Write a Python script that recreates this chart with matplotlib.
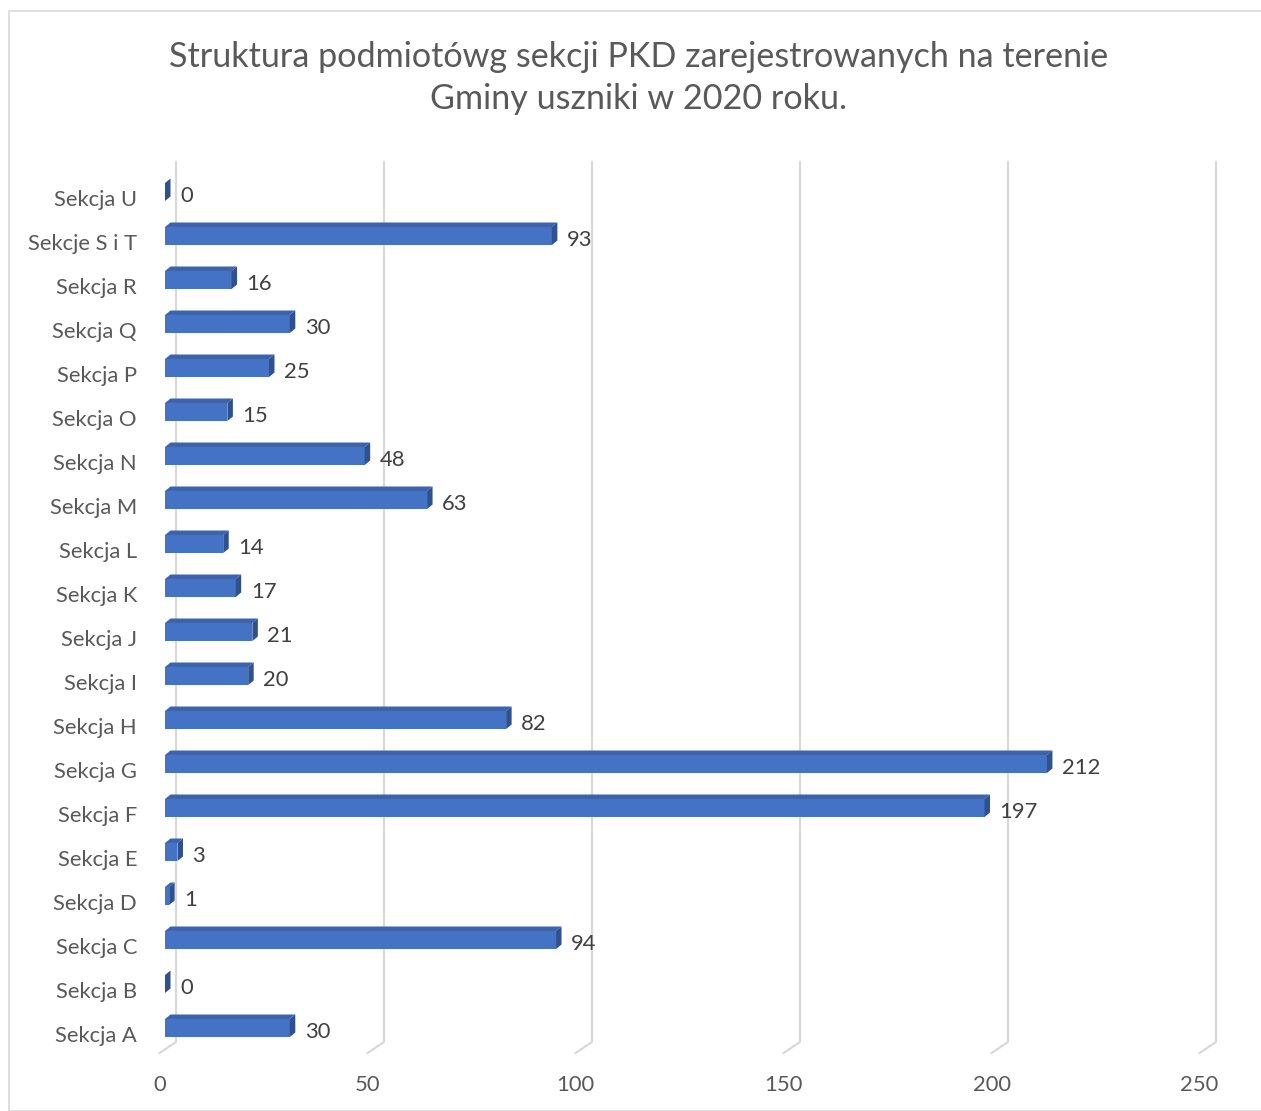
import matplotlib
matplotlib.use("Agg")
import matplotlib.pyplot as plt
import matplotlib.transforms as mtransforms
from matplotlib.patches import Rectangle

categories = ["Sekcja A", "Sekcja B", "Sekcja C", "Sekcja D", "Sekcja E",
              "Sekcja F", "Sekcja G", "Sekcja H", "Sekcja I", "Sekcja J",
              "Sekcja K", "Sekcja L", "Sekcja M", "Sekcja N", "Sekcja O",
              "Sekcja P", "Sekcja Q", "Sekcja R", "Sekcje S i T", "Sekcja U"]
values = [30, 0, 94, 1, 3, 197, 212, 82, 20, 21, 17, 14, 63, 48, 15, 25, 30, 16, 93, 0]
x_ticks = [0, 50, 100, 150, 200, 250]
title = "Struktura podmiotówg sekcji PKD zarejestrowanych na terenie\nGminy uszniki w 2020 roku."

FRONT = "#4472C4"
TOP = "#3B64AD"
SIDE = "#2F528F"
GRID = "#D9D9D9"
TEXT = "#595959"
LABEL = "#404040"

W, H = 1261, 1111
plt.rcParams["font.family"] = ["Lato", "DejaVu Sans"]

# pixel layout of the plot area (value 0 at x=165, 4.16 px per unit, 44 px per row)
PX_UNIT = 4.16
ROW = 44
X0 = 165
Y0 = 1028
ax_l, ax_r, ax_t, ax_b = 150, 1240, 150, 1100
FS = 15.8

fig = plt.figure(figsize=(W / 100, H / 100), dpi=100)
ax = fig.add_axes([ax_l / W, 1 - ax_b / H, (ax_r - ax_l) / W, (ax_b - ax_t) / H])
ax.set_xlim((ax_l - X0) / PX_UNIT, (ax_r - X0) / PX_UNIT)
ax.set_ylim((Y0 - ax_b) / ROW, (Y0 - ax_t) / ROW)

# 3d depth offsets in data units
dx = 5.5 / PX_UNIT
dy = 4.5 / ROW
h = 18 / ROW
back = 11 / PX_UNIT
floor = -1.3
y_top = (Y0 - 162) / ROW
y_back_floor = (Y0 - 1042) / ROW
y_front_floor = (Y0 - 1053) / ROW

# push text down a few px so it sits like the original
shift = mtransforms.ScaledTranslation(0, -4 / 100, fig.dpi_scale_trans)
shift_cat = mtransforms.ScaledTranslation(0, -8 / 100, fig.dpi_scale_trans)

for t in x_ticks:
    ax.plot([t + back, t + back, t + floor], [y_top, y_back_floor, y_front_floor],
            color=GRID, lw=1.6, solid_joinstyle="miter", zorder=1)
    ax.text(t + floor, (Y0 - 1085) / ROW, str(t), ha="center", va="center",
            fontsize=FS, color=TEXT)

ypos = list(range(len(categories)))
ax.barh(ypos, values, height=h, color=FRONT, zorder=3)
for y, v, cat in zip(ypos, values, categories):
    lo, hi = y - h / 2, y + h / 2
    ax.fill([0, v, v + dx, dx], [hi, hi, hi + dy, hi + dy], color=TOP, lw=0, zorder=3)
    ax.fill([v, v + dx, v + dx, v], [lo, lo + dy, hi + dy, hi], color=SIDE, lw=0, zorder=3)
    ax.text(v + 15 / PX_UNIT, y, str(v), ha="left", va="center",
            fontsize=FS, color=LABEL, zorder=4, transform=ax.transData + shift)
    ax.text((137 - X0) / PX_UNIT, y, cat, ha="right", va="center", fontsize=FS,
            color=TEXT, clip_on=False, transform=ax.transData + shift_cat)

ax.set_xticks([])
ax.set_yticks([])
for s in ax.spines.values():
    s.set_visible(False)

fig.text(639 / W, 1 - 78 / H, title, ha="center", va="center", fontsize=24.6,
         color=TEXT, linespacing=1.38)

fig.patches.append(Rectangle((9 / W, 0), 1.1, 1 - 11 / H, transform=fig.transFigure,
                             fill=False, edgecolor=GRID, lw=1.2))

fig.savefig("out.png", dpi=100)
